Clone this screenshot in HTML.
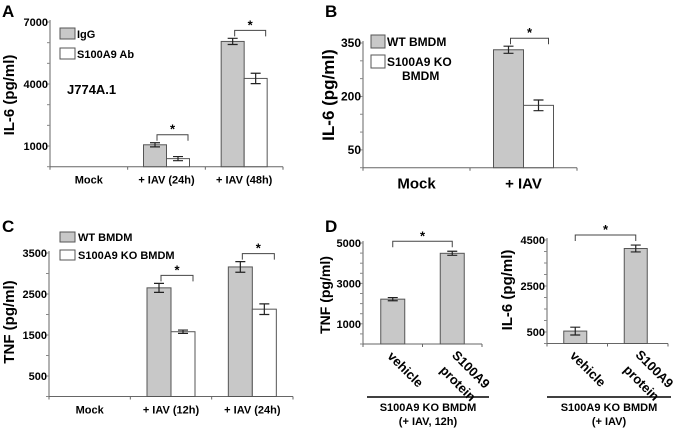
<!DOCTYPE html>
<html><head><meta charset="utf-8"><style>
body{margin:0;background:#fff}
svg{display:block;font-family:"Liberation Sans",Arial,sans-serif;font-weight:bold}
</style></head><body>
<svg id="fig" width="674" height="430" viewBox="0 0 674 430" xmlns="http://www.w3.org/2000/svg">
<g font-size="17">
<text x="2" y="17">A</text><text x="325" y="17">B</text><text x="2" y="232">C</text><text x="325" y="232">D</text>
</g>
<g font-size="11">
<rect x="60" y="28" width="15" height="11" fill="#c8c8c8" stroke="#555"/><text x="77" y="38">IgG</text>
<rect x="60" y="48" width="15" height="11" fill="#fff" stroke="#555"/><text x="77" y="58">S100A9 Ab</text>
<text x="67" y="94" font-size="13">J774A.1</text>
</g>
<g font-size="12">
<rect x="371" y="35" width="14" height="13" fill="#c8c8c8" stroke="#555"/><text x="387" y="46">WT BMDM</text>
<rect x="371" y="55" width="14" height="13" fill="#fff" stroke="#555"/><text x="387" y="66">S100A9 KO</text><text x="402" y="80">BMDM</text>
</g>
<g font-size="11">
<rect x="60" y="232" width="15" height="10" fill="#c8c8c8" stroke="#555"/><text x="78" y="241">WT BMDM</text>
<rect x="60" y="250" width="15" height="10" fill="#fff" stroke="#555"/><text x="78" y="259">S100A9 KO BMDM</text>
</g>
<g font-size="11" text-anchor="middle">
<line x1="367" y1="397" x2="489" y2="397" stroke="#000" stroke-width="1.5"/>
<text x="428" y="411">S100A9 KO BMDM</text><text x="428" y="425">(+ IAV, 12h)</text>
<line x1="547" y1="397" x2="671" y2="397" stroke="#000" stroke-width="1.5"/>
<text x="609" y="411">S100A9 KO BMDM</text><text x="609" y="425">(+ IAV)</text>
</g>
</svg>
<script>
// Panel A data
const aCats=["Mock","+ IAV (24h)","+ IAV (48h)"];
const aIgG=[0,1060,6060];
const aIgGErr=[0,100,150];
const aAb=[0,390,4270];
const aAbErr=[0,100,250];
const aTicks=[1000,4000,7000];
// Panel B data
const bCats=["Mock","+ IAV"];
const bWT=[0,331];
const bWTErr=[0,10];
const bKO=[0,175];
const bKOErr=[0,15];
const bTicks=[50,200,350];
// Panel C data
const cCats=["Mock","+ IAV (12h)","+ IAV (24h)"];
const cWT=[0,2650,3160];
const cWTErr=[0,110,130];
const cKO=[0,1580,2130];
const cKOErr=[0,40,130];
const cTicks=[500,1500,2500,3500];
// Panel D data
const dCats=["vehicle","S100A9 protein"];
const dTNF=[2220,4490];
const dTNFErr=[80,100];
const dTNFTicks=[1000,3000,5000];
const dIL6=[540,4130];
const dIL6Err=[170,150];
const dIL6Ticks=[500,2500,4500];

const svg=document.getElementById('fig');
const NS='http://www.w3.org/2000/svg';
function mk(tag,attrs,parent){const e=document.createElementNS(NS,tag);for(const k in attrs)e.setAttribute(k,attrs[k]);(parent||svg).appendChild(e);return e;}

function panel(o){
  const g=mk('g',{});
  
  
  const y=v=>o.y0-(v-o.vmin)*(o.y0-o.ytop)/(o.vmax-o.vmin);
  mk('line',{x1:o.x0,y1:o.ytop-2,x2:o.x0,y2:o.y0,stroke:'#666','stroke-width':1},g);
  mk('line',{x1:o.x0,y1:o.y0,x2:o.x1,y2:o.y0,stroke:'#666','stroke-width':1},g);
  for(let v=o.vmin;v<=o.vmax+1e-6;v+=o.minor){mk('line',{x1:o.x0-3,y1:y(v),x2:o.x0,y2:y(v),stroke:'#888'},g);}
  o.ticks.forEach(t=>{const tx=mk('text',{x:o.x0-2,y:y(t)+4,'text-anchor':'end','font-size':o.tfs},g);tx.textContent=t;
    
    });
  const yt=mk('text',{x:o.ylx,y:o.yly,'text-anchor':'middle','font-size':o.yfs,transform:`rotate(-90 ${o.ylx} ${o.yly})`},g);
  yt.textContent=o.ytitle;
  
  
  const n=o.cats.length, cw=(o.x1-o.x0)/n;
  for(let i=0;i<=n;i++)mk('line',{x1:o.x0+i*cw,y1:o.y0,x2:o.x0+i*cw,y2:o.y0+3,stroke:'#666'},g);
  o.cats.forEach((c,i)=>{
    const cx=o.x0+cw*(i+0.5)+(o.catShift||0);
    if(o.rot){
      const parts=c.split(' ');
      const offs=parts.length>1?[[-1,12],[-13,27]]:[[-6,13]];
      parts.forEach((p,k)=>{const t=mk('text',{x:0,y:0,'font-size':13,transform:`translate(${cx+offs[k][0]},${o.y0+offs[k][1]}) rotate(45)`},g);t.textContent=p;
        
        });
    } else {
      const t=mk('text',{x:cx,y:o.y0+o.lfs+6,'text-anchor':'middle','font-size':o.lfs},g);t.textContent=c;
      
      
    }
    const bw=o.bw;
    o.series.forEach((s,si)=>{
      const v=s.vals[i]; if(!v)return;
      const bx=cx-(o.series.length*bw)/2+si*bw+(o.barShift||0);
      const r=mk('rect',{x:bx,y:y(v),width:bw,height:o.y0-y(v),fill:s.fill,stroke:'#555','stroke-width':1},g);
      
      
      const ex=bx+bw/2, e=s.err[i];
      mk('path',{d:`M${ex},${y(v+e)}V${y(v-e)}M${ex-5},${y(v+e)}H${ex+5}M${ex-5},${y(v-e)}H${ex+5}`,stroke:'#222','stroke-width':1.2,fill:'none'},g);
    });
    const vals=o.series.map(s=>s.vals[i]+s.err[i]);
    if(o.series.length>1 && o.series.some(s=>s.vals[i])){
      const xa=cx-bw/2+(o.barShift||0)+2, xb=cx+bw/2+(o.barShift||0)+10;
      const top=y(Math.max(...vals))-8;
      mk('path',{d:`M${xa},${top+6}V${top}H${xb}V${top+6}`,stroke:'#444',fill:'none'},g);
      const st=mk('text',{x:(xa+xb)/2,y:top-1,'text-anchor':'middle','font-size':13},g);st.textContent='*';
      
      
    }
  });
  if(o.series.length===1){
    const s=o.series[0];
    const c0=o.x0+cw*0.5+(o.catShift||0), c1=o.x0+cw*1.5+(o.catShift||0);
    const top=y(Math.max(s.vals[0]+s.err[0],s.vals[1]+s.err[1]))-10;
    mk('path',{d:`M${c0},${top+6}V${top}H${c1}V${top+6}`,stroke:'#444',fill:'none'},g);
    const st=mk('text',{x:(c0+c1)/2,y:top-1,'text-anchor':'middle','font-size':13},g);st.textContent='*';
    
    
  }
}

panel({name:'panel-a-il6-j774',x0:50,x1:283,y0:166.7,ytop:22,vmin:0,vmax:7000,minor:1000,ticks:aTicks,tfs:11,
  ytitle:'IL-6 (pg/ml)',ylx:14,yly:95,yfs:15,cats:aCats,lfs:11,bw:23,
  series:[{key:'igg',vals:aIgG,err:aIgGErr,fill:'#c8c8c8'},{key:'s100a9-ab',vals:aAb,err:aAbErr,fill:'#fff'}]});
panel({name:'panel-b-il6-bmdm',x0:363,x1:577,y0:167.7,ytop:43,vmin:0,vmax:350,minor:50,ticks:bTicks,tfs:12,
  ytitle:'IL-6 (pg/ml)',ylx:334,yly:95,yfs:17,cats:bCats,lfs:15,bw:30,
  series:[{key:'wt',vals:bWT,err:bWTErr,fill:'#c8c8c8'},{key:'ko',vals:bKO,err:bKOErr,fill:'#fff'}]});
panel({name:'panel-c-tnf-bmdm',x0:49,x1:293,y0:396.5,ytop:253,vmin:0,vmax:3500,minor:500,ticks:cTicks,tfs:11,
  ytitle:'TNF (pg/ml)',ylx:14,yly:322,yfs:15,cats:cCats,lfs:11,bw:24,
  series:[{key:'wt',vals:cWT,err:cWTErr,fill:'#c8c8c8'},{key:'ko',vals:cKO,err:cKOErr,fill:'#fff'}]});
panel({name:'panel-d-tnf',x0:363,x1:482,y0:344,ytop:243,vmin:0,vmax:5000,minor:500,ticks:dTNFTicks,tfs:11,
  ytitle:'TNF (pg/ml)',ylx:330,yly:295,yfs:14,cats:dCats,lfs:11,bw:24,rot:true,
  series:[{key:'tnf',vals:dTNF,err:dTNFErr,fill:'#c8c8c8'}]});
panel({name:'panel-d-il6',x0:547,x1:668,y0:343.5,ytop:240,vmin:0,vmax:4500,minor:500,ticks:dIL6Ticks,tfs:11,
  ytitle:'IL-6 (pg/ml)',ylx:512,yly:290,yfs:15,cats:dCats,lfs:11,bw:23,rot:true,catShift:-2,
  series:[{key:'il6',vals:dIL6,err:dIL6Err,fill:'#c8c8c8'}]});
</script>
</body></html>
